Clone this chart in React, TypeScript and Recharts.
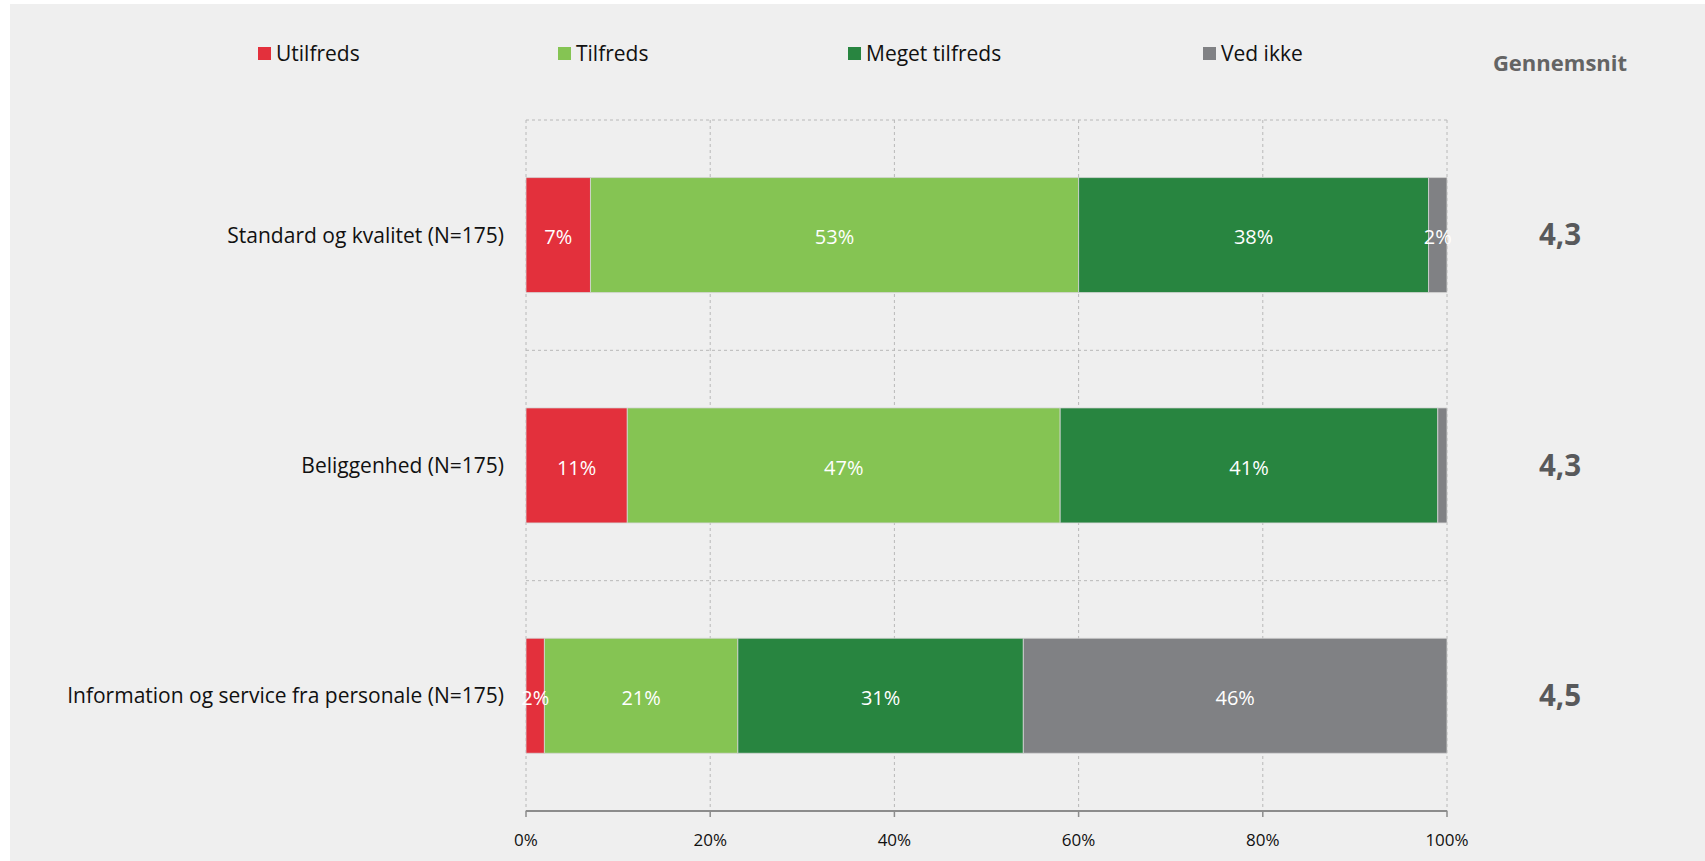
import React from "react";
import {
  BarChart,
  Bar,
  XAxis,
  YAxis,
  CartesianGrid,
  LabelList,
} from "recharts";

const categories = [
  "Standard og kvalitet (N=175)",
  "Beliggenhed (N=175)",
  "Information og service fra personale (N=175)",
];
const utilfreds = [7, 11, 2];
const tilfreds = [53, 47, 21];
const megetTilfreds = [38, 41, 31];
const vedIkke = [2, 1, 46];
const gennemsnit = ["4,3", "4,3", "4,5"];
const xTicks = [0, 20, 40, 60, 80, 100];

const series = [
  { key: "utilfreds", name: "Utilfreds", color: "#E3303C" },
  { key: "tilfreds", name: "Tilfreds", color: "#85C453" },
  { key: "megetTilfreds", name: "Meget tilfreds", color: "#288540" },
  { key: "vedIkke", name: "Ved ikke", color: "#808184" },
];

// legend slot positions (px from left of page)
const legendX = [258, 558, 848, 1203];

const data = categories.map((name, i) => ({
  name,
  utilfreds: utilfreds[i],
  tilfreds: tilfreds[i],
  megetTilfreds: megetTilfreds[i],
  vedIkke: vedIkke[i],
}));

const FONT = "'Open Sans', sans-serif";
const WIDTH = 1705;
const HEIGHT = 861;
const PLOT_LEFT = 526;
const PLOT_RIGHT = 1447;
const AVG_X = 1560;

const CategoryTick = (props: any) => {
  const { x, y, payload } = props;
  const avg = gennemsnit[payload.index];
  return (
    <g>
      <text
        x={x}
        y={y}
        dy="0.35em"
        textAnchor="end"
        fill="#111111"
        fontSize={21}
        fontFamily={FONT}
      >
        {payload.value}
      </text>
      <text
        x={AVG_X}
        y={y}
        dy="0.35em"
        textAnchor="middle"
        fill="#58595B"
        fontSize={29.5}
        fontWeight={700}
        fontFamily={FONT}
      >
        {avg}
      </text>
    </g>
  );
};

// legend + "Gennemsnit" header drawn above the plot
const LegendRow = () => (
  <div style={{ position: "absolute", left: 0, top: 0, width: WIDTH, height: 110, fontFamily: FONT }}>
    {series.map((s, i) => (
      <div
        key={s.key}
        style={{
          position: "absolute",
          left: legendX[i],
          top: 39,
          display: "flex",
          alignItems: "center",
          height: 28,
          fontSize: 21,
          color: "#111111",
        }}
      >
        <span
          style={{
            display: "inline-block",
            width: 13,
            height: 13,
            background: s.color,
            marginRight: 5,
          }}
        />
        {s.name}
      </div>
    ))}
    <div
      style={{
        position: "absolute",
        left: AVG_X - 100,
        width: 200,
        top: 47,
        textAlign: "center",
        fontSize: 22,
        fontWeight: 700,
        color: "#646464",
        lineHeight: "30px",
      }}
    >
      Gennemsnit
    </div>
  </div>
);

const bandLines = ({ offset }: any) => {
  const n = categories.length;
  const lines: number[] = [];
  for (let i = 0; i < n; i++) lines.push(offset.top + (offset.height * i) / n);
  return lines;
};

const App: React.FC = () => {
  return (
    <div
      style={{
        position: "absolute",
        left: 0,
        top: 0,
        width: WIDTH,
        height: HEIGHT,
        background: "#ffffff",
      }}
    >
      <div
        style={{
          position: "absolute",
          left: 10,
          top: 4,
          right: 0,
          bottom: 0,
          background: "#efefef",
        }}
      />
      <LegendRow />
      <div style={{ position: "absolute", left: 0, top: 0 }}>
        <BarChart
          width={WIDTH}
          height={HEIGHT}
          data={data}
          layout="vertical"
          barCategoryGap="25%"
          margin={{ top: 120, right: WIDTH - PLOT_RIGHT, bottom: 20, left: 0 }}
        >
          <CartesianGrid
            stroke="#b8b8b8"
            strokeDasharray="3 3"
            horizontalCoordinatesGenerator={bandLines}
          />
          <XAxis
            type="number"
            domain={[0, 100]}
            ticks={xTicks}
            tickFormatter={(v) => `${v}%`}
            axisLine={{ stroke: "#8c8c8c", strokeWidth: 2 }}
            tickLine={{ stroke: "#8c8c8c", strokeWidth: 1.5 }}
            tickSize={6}
            tickMargin={17}
            height={30}
            tick={{ fill: "#111111", fontSize: 17, fontFamily: FONT }}
            interval={0}
          />
          <YAxis
            type="category"
            dataKey="name"
            width={PLOT_LEFT}
            axisLine={false}
            tickLine={false}
            tickSize={0}
            tickMargin={22}
            tick={<CategoryTick />}
            interval={0}
          />
          {series.map((s) => (
            <Bar
              key={s.key}
              dataKey={s.key}
              name={s.name}
              stackId="a"
              fill={s.color}
              stroke="#d6d6d6"
              strokeWidth={0.8}
              isAnimationActive={false}
            >
              <LabelList
                dataKey={s.key}
                position="center"
                fill="#ffffff"
                fontSize={20}
                fontFamily={FONT}
                dy={2}
                formatter={(v: any) => (Number(v) >= 2 ? `${v}%` : "")}
              />
            </Bar>
          ))}
        </BarChart>
      </div>
    </div>
  );
};

export default App;
